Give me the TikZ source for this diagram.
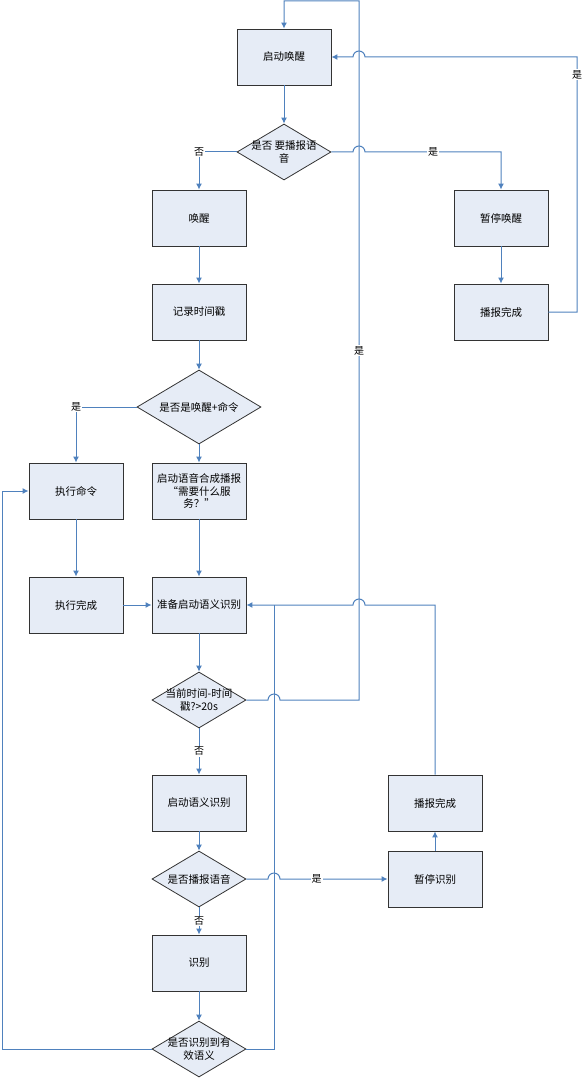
\documentclass[tikz,border=0pt]{standalone}
\usepackage{fontspec}
\usepackage{tikz}
\usetikzlibrary{shapes.geometric, arrows.meta}
\newfontfamily\cjk{Noto Sans CJK SC}
\definecolor{linkblue}{RGB}{79,129,189}
\definecolor{boxfill}{RGB}{230,236,246}

\begin{document}
\begin{tikzpicture}[x = 1pt, y = -1pt,
  box/.style = {draw = black!80, line width = 0.9pt, fill = boxfill, minimum width = 94pt, minimum height = 56pt, inner sep = 2pt, align = center, font = \cjk\fontsize{10.5}{12.5}\selectfont},
  dia/.style = {diamond, draw = black!80, line width = 0.8pt, fill = boxfill, minimum width = 94pt, minimum height = 56pt, inner sep = 0pt},
  dtext/.style = {align = center, font = \cjk\fontsize{10.5}{12.5}\selectfont},
  link/.style = {draw = linkblue, line width = 1pt, -{Latex[length = 6pt, width = 6pt]}},
  line/.style = {draw = linkblue, line width = 1pt},
  lbl/.style = {fill = white, inner sep = 1pt, font = \cjk\fontsize{10}{12}\selectfont}]
  \useasboundingbox (0, 0) rectangle (583, 1078);

  % left column
  \node[box] (wake) at (284, 57) {启动唤醒};
  \node[dia, label = {[dtext]center:是否 要播报语\\音}] (askplay) at (284, 152) {};
  \node[box] (awake) at (199, 218) {唤醒};
  \node[box] (stamp) at (199, 312) {记录时间戳};
  \node[dia, minimum width = 124pt, minimum height = 74pt, label = {[dtext]center:是否是唤醒+命令}] (askcmd) at (199, 407) {};
  \node[box] (exec) at (76, 491) {执行命令};
  \node[box] (tts) at (199, 491) {启动语音合成播报\\“需要什么服\\务？”};
  \node[box] (execdone) at (76, 605) {执行完成};
  \node[box] (prep) at (199, 605) {准备启动语义识别};
  \node[dia, label = {[dtext]center:当前时间-时间\\戳?>20s}] (asktime) at (199, 700) {};
  \node[box] (startsem) at (199, 803) {启动语义识别};
  \node[dia, label = {[dtext]center:是否播报语音}] (askvoice) at (199, 879) {};
  \node[box] (recog) at (199, 963) {识别};
  \node[dia, label = {[dtext]center:是否识别到有\\效语义}] (askvalid) at (199, 1049) {};

  % right column
  \node[box] (pausewake) at (501, 218) {暂停唤醒};
  \node[box] (playdone) at (501, 312) {播报完成};
  \node[box] (playdone2) at (435, 803) {播报完成};
  \node[box] (pauserec) at (435, 879) {暂停识别};
  \coordinate (join) at (274, 605);

  % connectors
  \draw[link] (wake) -- (askplay);
  \draw[link] (askplay.west) -| node[lbl, pos = 0.5] {否} (awake.north);
  \draw[link] (askplay.east) -- (353, 152) arc[start angle = 180, end angle = 360, radius = 6] -| node[lbl, pos = 0.25] {是} (pausewake.north);
  \draw[link] (pausewake) -- (playdone);
  \draw[link] (playdone.east) -- (577, 312) -- node[lbl, pos = 0.93] {是} (577, 57) -- (365, 57) arc[start angle = 360, end angle = 180, radius = 6] -- (wake.east);
  \draw[link] (awake) -- (stamp);
  \draw[link] (stamp) -- (askcmd);
  \draw[link] (askcmd.west) -| node[lbl, pos = 0.5] {是} (exec.north);
  \draw[link] (askcmd) -- (tts);
  \draw[link] (exec) -- (execdone);
  \draw[link] (execdone) -- (prep);
  \draw[link] (tts) -- (prep);
  \draw[link] (prep) -- (asktime);
  \draw[link] (asktime.east) -- (268, 700) arc[start angle = 180, end angle = 360, radius = 6] -- (359, 700) -- node[lbl, pos = 0.5] {是} (359, 1) -| (wake.north);
  \draw[link] (asktime) -- node[lbl] {否} (startsem);
  \draw[link] (startsem) -- (askvoice);
  \draw[link] (askvoice) -- node[lbl] {否} (recog);
  \draw[link] (askvoice.east) -- (268, 879) arc[start angle = 180, end angle = 360, radius = 6] -- node[lbl, pos = 0.34] {是} (pauserec.west);
  \draw[link] (pauserec) -- (playdone2);
  \draw[link] (playdone2.north) |- (365, 605) arc[start angle = 360, end angle = 180, radius = 6] -- (prep.east);
  \draw[link] (recog) -- (askvalid);
  \draw[line] (askvalid.east) -| (join);
  \draw[link] (askvalid.west) -- (2, 1049) |- (exec.west);
\end{tikzpicture}
\end{document}
